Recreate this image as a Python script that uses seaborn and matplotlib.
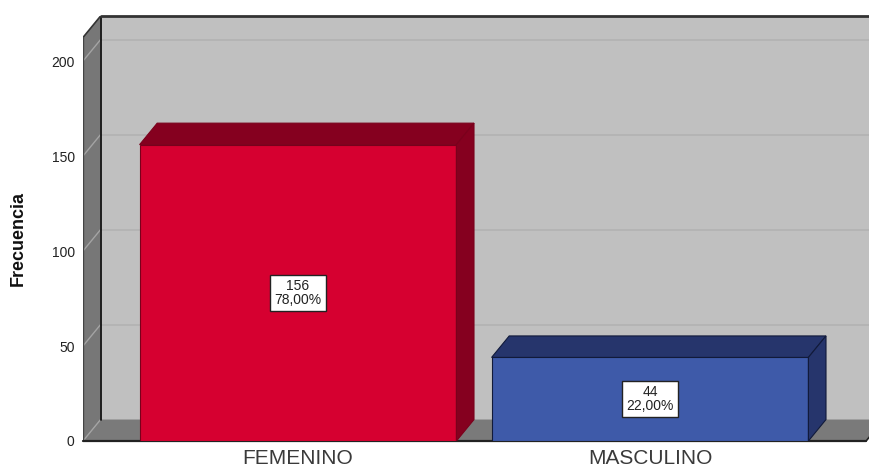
import matplotlib
matplotlib.use("Agg")
import matplotlib.pyplot as plt
from matplotlib.patches import Polygon, Rectangle
import seaborn as sns
import pandas as pd

# Data
categories = ["FEMENINO", "MASCULINO"]
counts = [156, 44]
y_ticks = [0, 50, 100, 150, 200]

front_colors = ["#d60030", "#3e5aa9"]
shade_colors = ["#85001f", "#26356c"]
edge_colors = ["#7a001c", "#111a3a"]

total = sum(counts)
percent_labels = [f"{100 * c / total:.2f}".replace(".", ",") + "%" for c in counts]

sns.set_theme(style="white")
plt.rcParams["font.family"] = ["Liberation Sans", "DejaVu Sans"]

fig = plt.figure(figsize=(8.7, 4.71), dpi=100)
ax = fig.add_axes([83 / 870, 30 / 471, 787 / 870, 425 / 471])
ax.set_facecolor("white")

df = pd.DataFrame({"Sexo": categories, "Frecuencia": counts})
sns.barplot(data=df, x="Sexo", y="Frecuencia", hue="Sexo",
            palette=front_colors, width=0.9, legend=False, ax=ax,
            saturation=1)

# Axis extents of the front plane and depth offset of the 3D box
x0, x1 = -0.6108, 1.625
y_top = 223.7
wall_max = 212.4
DX, DY = 0.050, 11.3
floor_right = 1.614

ax.set_xlim(x0, x1)
ax.set_ylim(0, y_top)

# Back wall with gridlines
ax.add_patch(Rectangle((x0 + DX, DY), x1 - x0, wall_max, facecolor="#c0c0c0",
                       edgecolor="none", zorder=0.2))
for t in y_ticks[1:]:
    ax.plot([x0 + DX, x1 + 0.1], [t + DY, t + DY], color="#b2b2b2",
            lw=1.2, zorder=0.5, clip_on=False)

# Left side panel
ax.add_patch(Polygon([(x0, 0), (x0, wall_max), (x0 + DX, wall_max + DY),
                      (x0 + DX, DY)], closed=True, facecolor="#777777",
                     edgecolor="none", zorder=1))
for t in y_ticks:
    ax.plot([x0, x0 + DX], [t, t + DY], color="#a4a4a4", lw=1.0, zorder=1.1)

# Floor
ax.add_patch(Polygon([(x0, 0), (floor_right, 0), (floor_right + DX, DY),
                      (x0 + DX, DY)], closed=True, facecolor="#7a7a7a",
                     edgecolor="none", zorder=1, clip_on=False))

# Box edges
ax.plot([x0 + DX, x0 + DX], [DY, wall_max + DY], color="#111111", lw=1.3, zorder=1.2)
ax.plot([x0 + DX, x1 + 0.1], [wall_max + DY, wall_max + DY], color="#333333",
        lw=2.0, zorder=1.2, clip_on=False)
ax.plot([x0, x0 + DX], [wall_max, wall_max + DY], color="#333333", lw=1.2, zorder=1.2)
ax.plot([x0, x0], [0, wall_max], color="#444444", lw=1.0, zorder=1.2)
ax.plot([x0, floor_right], [0, 0], color="#222222", lw=1.6, zorder=1.2, clip_on=False)
ax.plot([floor_right, floor_right + DX], [0, DY], color="#222222", lw=1.2,
        zorder=1.2, clip_on=False)

# 3D bars: front faces from seaborn, top and side faces added on
bars = [p for p in ax.patches if isinstance(p, Rectangle) and p.get_width() < 1]
bars = sorted(bars, key=lambda p: p.get_x())[:len(categories)]
for i, bar in enumerate(bars):
    l = bar.get_x()
    r = l + bar.get_width()
    v = bar.get_height()
    bar.set_facecolor(front_colors[i])
    bar.set_edgecolor(edge_colors[i])
    bar.set_linewidth(0.8)
    bar.set_zorder(3)
    ax.add_patch(Polygon([(l, v), (r, v), (r + DX, v + DY), (l + DX, v + DY)],
                         closed=True, facecolor=shade_colors[i],
                         edgecolor=edge_colors[i], lw=0.8, zorder=3))
    ax.add_patch(Polygon([(r, 0), (r, v), (r + DX, v + DY), (r + DX, DY)],
                         closed=True, facecolor=shade_colors[i],
                         edgecolor=edge_colors[i], lw=0.8, zorder=3))
    ax.text((l + r) / 2, v / 2, f"{counts[i]}\n{percent_labels[i]}",
            ha="center", va="center", fontsize=10, color="#222222",
            linespacing=0.95, zorder=5,
            bbox=dict(boxstyle="square,pad=0.3", facecolor="white",
                      edgecolor="#222222", lw=1.0))

# Axes styling
for s in ax.spines.values():
    s.set_visible(False)
ax.set_yticks(y_ticks)
ax.set_yticklabels([str(t) for t in y_ticks], fontsize=10, color="#222222")
ax.tick_params(axis="y", length=0, pad=6)
ax.set_xticks(range(len(categories)))
ax.set_xticklabels(categories, fontsize=15, color="#3a3a3a")
ax.tick_params(axis="x", length=0, pad=6)
ax.set_xlabel("")
ax.set_ylabel("")
fig.text(18 / 870, 1 - 239 / 471, "Frecuencia", rotation=90, ha="center",
         va="center", fontsize=13, fontweight="bold", color="#111111")

fig.savefig("out.png", dpi=100)
